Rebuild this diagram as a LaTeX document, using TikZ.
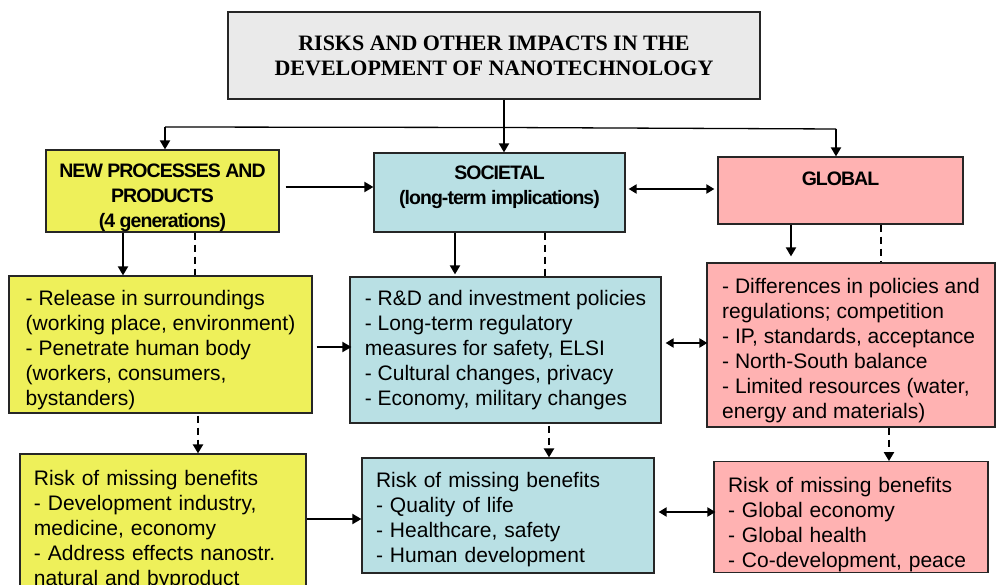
\documentclass[tikz,border=0pt]{standalone}
\usepackage{fontspec}
\setmainfont{Liberation Sans}
\newfontfamily\titlefont{Liberation Serif}
\newfontfamily\headfont[LetterSpace=-5]{Liberation Sans}
\usetikzlibrary{arrows.meta,calc}
\definecolor{yel}{RGB}{238,240,90}
\definecolor{blu}{RGB}{185,224,228}
\definecolor{pnk}{RGB}{255,178,178}
\definecolor{gry}{RGB}{234,234,234}
\newcommand{\lift}[1]{\rule{0pt}{#1}}
\begin{document}
\begin{tikzpicture}[x=1pt,y=-1pt,
 box/.style={draw=black!85, line width=1.2pt, inner sep=0pt, align=left, font=\fontsize{21}{25}\selectfont},
 head/.style={draw=black!85, line width=1.2pt, inner sep=0pt, align=center, font=\headfont\bfseries\fontsize{19.5}{25}\selectfont},
 arr/.style={line width=2pt, -{Triangle[length=9pt,width=10pt]}},
 thin/.style={line width=1.3pt},
 darr/.style={line width=2pt, {Triangle[length=8pt,width=9pt]}-{Triangle[length=8pt,width=9pt]}},
 dsh/.style={line width=2.2pt, dash pattern=on 7pt off 5pt},
 darrow/.style={dsh, -{Triangle[length=9pt,width=10pt]}},
]
\fill[white] (0,0) rectangle (1005,585);
\useasboundingbox (0,0) rectangle (1005,585);

\node[draw=black!85, line width=1.2pt, fill=gry, minimum width=532pt, minimum height=87pt, inner sep=0pt, align=center,
 font=\titlefont\bfseries\fontsize{22}{25}\selectfont] (title) at (494,55.5)
 {RISKS AND OTHER IMPACTS IN THE\\DEVELOPMENT OF NANOTECHNOLOGY};

\node[head, fill=yel, minimum width=233pt, minimum height=82pt] (b1) at (162.5,191)
 {\lift{27pt}NEW PROCESSES AND\\PRODUCTS\\(4 generations)};
\node[head, fill=blu, minimum width=251pt, minimum height=79pt] (b2) at (499.5,192.5)
 {SOCIETAL\\(long-term implications)\\[-18pt]\strut};
\node[head, fill=pnk, minimum width=245pt, minimum height=67pt] (b3) at (840.5,190.5)
 {GLOBAL\\[-8pt]\strut};

\node[box, fill=yel, minimum width=303pt, minimum height=137pt] (b4) at (160.5,344.5)
 {\lift{27.3pt}- Release in surroundings\\(working place, environment)\\- Penetrate human body\\(workers, consumers,\\bystanders)};
\node[box, fill=blu, minimum width=311pt, minimum height=146pt] (b5) at (505.5,350)
 {- R\&D and investment policies\\- Long-term regulatory\\measures for safety, ELSI\\- Cultural changes, privacy\\- Economy, military changes};
\node[box, fill=pnk, minimum width=288pt, minimum height=164pt] (b6) at (851,345)
 {\lift{27.3pt}- Differences in policies and\\regulations; competition\\- IP, standards, acceptance\\- North-South balance\\- Limited resources (water,\\energy and materials)};

\node[box, fill=yel, minimum width=286pt, minimum height=146pt, text width=258pt] (b7) at (163,527)
 {\lift{21.3pt}Risk of missing benefits\\- Development industry,\\medicine, economy\\- Address effects nanostr.\\natural and byproduct};
\node[box, fill=blu, minimum width=292pt, minimum height=115pt, text width=264pt] (b8) at (508,515.5)
 {\lift{23.3pt}Risk of missing benefits\\- Quality of life\\- Healthcare, safety\\- Human development};
\node[box, fill=pnk, minimum width=274pt, minimum height=110pt, text width=246pt] (b9) at (851,517)
 {\lift{31.3pt}Risk of missing benefits\\- Global economy\\- Global health\\- Co-development, peace};

% top distribution
\coordinate (jm) at (504,127.5);
\coordinate (jl) at (165,127);
\coordinate (jr) at (836,129);
\draw[line width=1.5pt] (jm |- title.south) -- (jm);
\draw[thin] (jl) -- (jm) -- (jr);
\draw[arr] (jl) -- (jl |- b1.north);
\draw[arr] (jm) -- (jm |- b2.north);
\draw[arr] (jr) -- (jr |- b3.north);

% first row horizontal
\draw[arr] ([xshift=6pt,yshift=4pt]b1.east) -- ([yshift=5.5pt]b2.west);
\draw[darr] ([xshift=3pt,yshift=3.5pt]b2.east) -- ([xshift=-3pt,yshift=1.5pt]b3.west);

% first to second row
\draw[arr] ([xshift=-39.5pt]b1.south) -- ([xshift=-39.5pt]b1.south |- b4.north);
\draw[dsh] ([xshift=32.5pt]b1.south) -- ([xshift=32.5pt]b1.south |- b4.north);
\draw[arr, shorten >=2pt] ([xshift=-44.5pt]b2.south) -- ([xshift=-44.5pt]b2.south |- b5.north);
\draw[dsh] ([xshift=45.5pt]b2.south) -- ([xshift=45.5pt]b2.south |- b5.north);
\draw[arr, shorten >=6pt] ([xshift=-49.5pt]b3.south) -- ([xshift=-49.5pt]b3.south |- b6.north);
\draw[dsh] ([xshift=40.5pt]b3.south) -- ([xshift=40.5pt]b3.south |- b6.north);

% second row horizontal
\draw[arr, shorten >=2pt] ([xshift=4pt,yshift=-2.5pt]b4.east) -- ([xshift=4pt,yshift=-2.5pt]b4.east -| b5.west);
\draw[darr, shorten >=3pt] ([xshift=4pt,yshift=7pt]b5.east) -- ([xshift=4pt,yshift=7pt]b5.east -| b6.west);

% second to third row
\draw[darrow] ([xshift=37.5pt,yshift=-2pt]b4.south) -- ([xshift=37.5pt]b4.south |- b7.north);
\draw[darrow] ([xshift=43.5pt,yshift=-2pt]b5.south) -- ([xshift=43.5pt]b5.south |- b8.north);
\draw[darrow] ([xshift=38pt]b6.south) -- ([xshift=38pt]b6.south |- b9.north);

% third row horizontal
\draw[arr] ([yshift=8pt]b7.east) -- ([yshift=8pt]b7.east -| b8.west);
\draw[darr, shorten >=2pt] ([xshift=4pt,yshift=3.5pt]b8.east) -- ([xshift=4pt,yshift=3.5pt]b8.east -| b9.west);
\end{tikzpicture}
\end{document}
